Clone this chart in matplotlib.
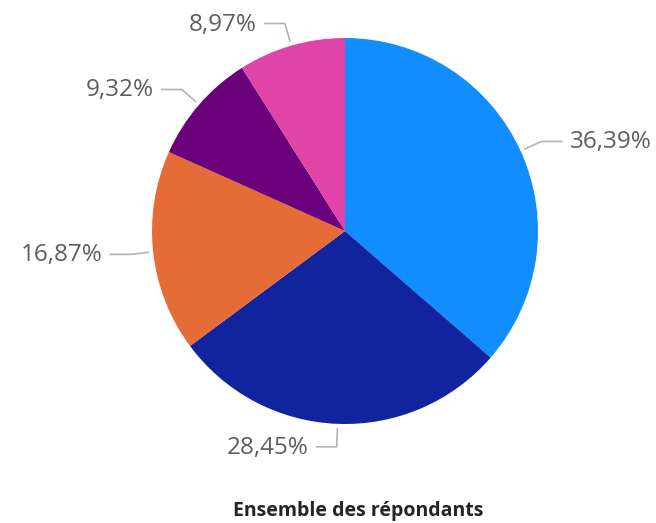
import numpy as np
import matplotlib
matplotlib.use("Agg")
import matplotlib.pyplot as plt

labels = ["36,39%", "28,45%", "16,87%", "9,32%", "8,97%"]
values = [36.39, 28.45, 16.87, 9.32, 8.97]
colors = ["#118DFF", "#12239E", "#E66C37", "#6B007B", "#E044A7"]
title = "Ensemble des répondants"

W, H = 656, 523
fig = plt.figure(figsize=(W / 100, H / 100), dpi=100)
ax = fig.add_axes([0, 0, 1, 1])

cx, cy, r = 345, H - 231, 193
wedges, _ = ax.pie(values, colors=colors, startangle=90, counterclock=False,
                   center=(cx, cy), radius=r, wedgeprops=dict(linewidth=0))
ax.set_xlim(0, W)
ax.set_ylim(0, H)
ax.set_aspect("equal")
ax.set_axis_off()

for w, lab in zip(wedges, labels):
    ang = np.deg2rad((w.theta1 + w.theta2) / 2)
    ca, sa = np.cos(ang), np.sin(ang)
    x0, y0 = cx + (r + 4) * ca, cy + (r + 4) * sa
    x1, y1 = cx + (r + 23) * ca, cy + (r + 23) * sa
    side = 1 if ca >= 0 else -1
    x2 = x1 + side * 21
    ax.plot([x0, x1, x2], [y0, y1, y1], color="#B3B3B3", lw=1.2,
            solid_capstyle="butt")
    ax.text(x2 + side * 7, y1 - 1, lab, ha="left" if side > 0 else "right",
            va="center", fontsize=17.5, color="#605E5C", family="Open Sans")

ax.text(358, H - 511, title, ha="center", va="center", fontsize=14,
        fontweight="bold", color="#252423", family="Open Sans")

fig.savefig("out.png", dpi=100)
